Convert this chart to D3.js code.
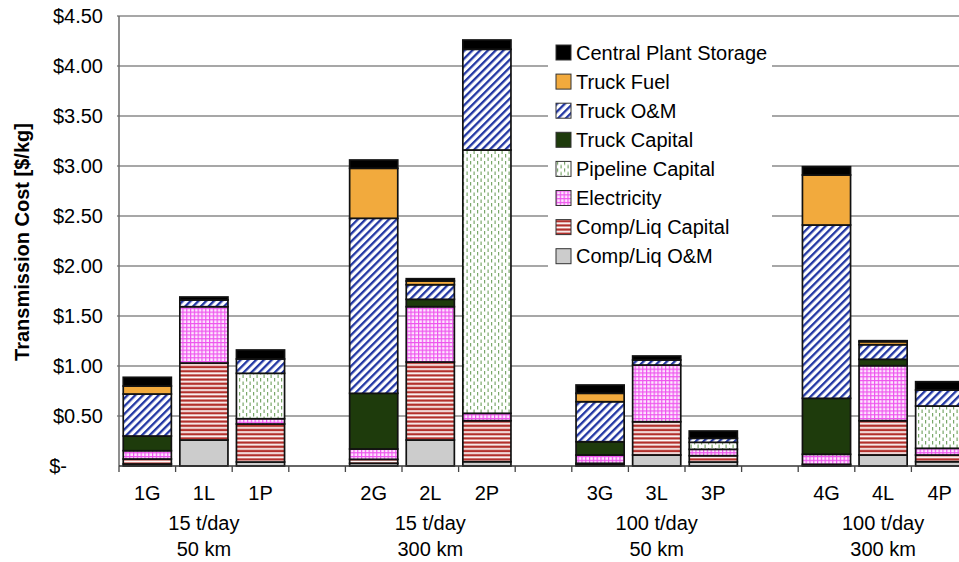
<!DOCTYPE html>
<html><head><meta charset="utf-8">
<script src="https://cdn.jsdelivr.net/npm/d3@7"></script>
<style>
html,body{margin:0;padding:0;background:#fff;}
svg{display:block;font-family:"Liberation Sans",Arial,sans-serif;}
</style></head>
<body><svg id="chart" width="959" height="562"></svg>
<script>
// ---- data ----
const categories = ["1G","1L","1P","2G","2L","2P","3G","3L","3P","4G","4L","4P"];
const groupLine1 = ["15 t/day","15 t/day","100 t/day","100 t/day"];
const groupLine2 = ["50 km","300 km","50 km","300 km"];
const seriesNames = ["Comp/Liq O&M","Comp/Liq Capital","Electricity","Pipeline Capital","Truck Capital","Truck O&M","Truck Fuel","Central Plant Storage"];
const compLiqOM       = [0.02, 0.26, 0.04, 0.027, 0.26, 0.043, 0.01, 0.11, 0.04, 0.005, 0.11, 0.043];
const compLiqCapital  = [0.05, 0.77, 0.38, 0.04, 0.78, 0.41, 0.017, 0.333, 0.063, 0.012, 0.343, 0.067];
const electricity     = [0.083, 0.563, 0.053, 0.103, 0.553, 0.074, 0.083, 0.567, 0.064, 0.10, 0.55, 0.067];
const pipelineCapital = [0, 0, 0.454, 0, 0, 2.633, 0, 0, 0.07, 0, 0, 0.423];
const truckCapital    = [0.147, 0, 0, 0.557, 0.074, 0, 0.133, 0, 0, 0.56, 0.064, 0];
const truckOM         = [0.42, 0.067, 0.143, 1.75, 0.146, 1.007, 0.40, 0.05, 0.04, 1.733, 0.146, 0.16];
const truckFuel       = [0.08, 0, 0, 0.5, 0.037, 0, 0.084, 0, 0, 0.5, 0.03, 0];
const centralPlantStorage = [0.087, 0.03, 0.09, 0.083, 0.023, 0.093, 0.083, 0.04, 0.073, 0.083, 0.01, 0.083];
const yTicks = [0, 0.5, 1, 1.5, 2, 2.5, 3, 3.5, 4, 4.5];
const yTickLabels = ["$-","$0.50","$1.00","$1.50","$2.00","$2.50","$3.00","$3.50","$4.00","$4.50"];
const yTitle = "Transmission Cost [$/kg]";

const seriesValues = [compLiqOM, compLiqCapital, electricity, pipelineCapital, truckCapital, truckOM, truckFuel, centralPlantStorage];
const rows = categories.map((c,i)=>{const r={cat:c}; seriesNames.forEach((s,j)=>r[s]=seriesValues[j][i]); return r;});

// slots with gaps between groups
const slots = [];
categories.forEach((c,i)=>{ if(i>0 && i%3===0) slots.push("gap"+i); slots.push(c); });

const svg = d3.select("#chart");
const W = 959, H = 562;
const pLeft = 119, pRight = 968, pTop = 16, pBottom = 466;

const x = d3.scaleBand().domain(slots).range([pLeft,pRight]).paddingInner(0.15).paddingOuter(0.075);
const y = d3.scaleLinear().domain([0,4.5]).range([pBottom,pTop]);

// patterns
const defs = svg.append("defs");
const pOM = defs.append("pattern").attr("id","pTruckOM").attr("patternUnits","userSpaceOnUse")
  .attr("width",5.5).attr("height",5.5).attr("patternTransform","rotate(45)");
pOM.append("rect").attr("width",5.5).attr("height",5.5).attr("fill","#fff");
pOM.append("rect").attr("width",2.3).attr("height",5.5).attr("fill","#2136a3");

const pRed = defs.append("pattern").attr("id","pCompCap").attr("patternUnits","userSpaceOnUse")
  .attr("width",4).attr("height",4.2);
pRed.append("rect").attr("width",4).attr("height",4.2).attr("fill","#fff");
pRed.append("rect").attr("y",0.4).attr("width",4).attr("height",2.4).attr("fill","#b3302c");

const pPink = defs.append("pattern").attr("id","pElec").attr("patternUnits","userSpaceOnUse")
  .attr("width",3.8).attr("height",3.8);
pPink.append("rect").attr("width",3.8).attr("height",3.8).attr("fill","#fde8fd");
pPink.append("rect").attr("width",3.8).attr("height",1.2).attr("fill","#ee55ee");
pPink.append("rect").attr("width",1.2).attr("height",3.8).attr("fill","#ee55ee");

const pPipe = defs.append("pattern").attr("id","pPipe").attr("patternUnits","userSpaceOnUse")
  .attr("width",7).attr("height",7);
pPipe.append("rect").attr("width",7).attr("height",7).attr("fill","#fff");
pPipe.append("rect").attr("x",1).attr("y",0).attr("width",1.2).attr("height",3.5).attr("fill","#7aa86a");
pPipe.append("rect").attr("x",4.5).attr("y",3.5).attr("width",1.2).attr("height",3.5).attr("fill","#7aa86a");

const fills = {
  "Comp/Liq O&M":"#cccccc",
  "Comp/Liq Capital":"url(#pCompCap)",
  "Electricity":"url(#pElec)",
  "Pipeline Capital":"url(#pPipe)",
  "Truck Capital":"#1e3b0c",
  "Truck O&M":"url(#pTruckOM)",
  "Truck Fuel":"#f2aa3d",
  "Central Plant Storage":"#000000"
};

// gridlines
svg.append("g").selectAll("line").data(yTicks.filter(d=>d>0)).join("line")
  .attr("x1",pLeft-2).attr("x2",W).attr("y1",d=>y(d)).attr("y2",d=>y(d))
  .attr("stroke","#8a8a8a").attr("stroke-width",1.6);

// y axis labels
const yAxis = d3.axisLeft(y).tickValues(yTicks).tickSize(0).tickPadding(16)
  .tickFormat((d,i)=>yTickLabels[i]);
const gy = svg.append("g").attr("transform",`translate(${pLeft},0)`).call(yAxis);
gy.select(".domain").remove();
gy.selectAll("text").attr("font-size",20).attr("fill","#000").attr("font-family","Liberation Sans, Arial, sans-serif")
  .attr("dx",(d,i)=> yTickLabels[i]==="$-" ? -36 : 0);

// y axis line
svg.append("line").attr("x1",pLeft).attr("x2",pLeft).attr("y1",pTop).attr("y2",pBottom)
  .attr("stroke","#6a6a6a").attr("stroke-width",1.5);

// y title
svg.append("text").attr("transform",`translate(29,242) rotate(-90)`)
  .attr("text-anchor","middle").attr("font-weight","bold").attr("font-size",20).text(yTitle);

// legend background
const legX = 548, legY = 36;
svg.append("rect").attr("x",legX).attr("y",legY).attr("width",224).attr("height",237).attr("fill","#fff");

// bars
const stack = d3.stack().keys(seriesNames);
const stacked = stack(rows);
const gBars = svg.append("g");
stacked.forEach(layer=>{
  gBars.append("g").selectAll("rect").data(layer.filter(d=>d[1]-d[0]>0)).join("rect")
    .attr("x",d=>x(d.data.cat)).attr("width",x.bandwidth())
    .attr("y",d=>y(d[1])).attr("height",d=>y(d[0])-y(d[1]))
    .attr("fill",fills[layer.key]).attr("stroke","#111").attr("stroke-width",1.7);
});

// baseline
svg.append("line").attr("x1",pLeft).attr("x2",W).attr("y1",pBottom).attr("y2",pBottom)
  .attr("stroke","#333").attr("stroke-width",1.5);

// x ticks at slot boundaries
const step = x.step();
const boundaries = slots.map(s=>x(s)-step*x.paddingInner()/2).concat([x(slots[slots.length-1])+x.bandwidth()+step*x.paddingInner()/2]);
svg.append("g").selectAll("line").data(boundaries).join("line")
  .attr("x1",d=>d).attr("x2",d=>d).attr("y1",pBottom).attr("y2",pBottom+6)
  .attr("stroke","#444").attr("stroke-width",1.3);

// category labels
svg.append("g").selectAll("text").data(categories).join("text")
  .attr("x",d=>x(d)+x.bandwidth()/2).attr("y",500)
  .attr("text-anchor","middle").attr("font-size",20).text(d=>d);

// group labels
const groupCenters = [1,4,7,10].map(i=>x(categories[i])+x.bandwidth()/2);
svg.append("g").selectAll("text").data(groupLine1).join("text")
  .attr("x",(d,i)=>groupCenters[i]).attr("y",530)
  .attr("text-anchor","middle").attr("font-size",20).text(d=>d);
svg.append("g").selectAll("text").data(groupLine2).join("text")
  .attr("x",(d,i)=>groupCenters[i]).attr("y",556)
  .attr("text-anchor","middle").attr("font-size",20).text(d=>d);

// legend (top to bottom reversed order)
const legItems = seriesNames.slice().reverse();
const lg = svg.append("g").selectAll("g").data(legItems).join("g")
  .attr("transform",(d,i)=>`translate(556,${45+i*29.1})`);
lg.append("rect").attr("width",15).attr("height",15)
  .attr("fill",d=>fills[d]).attr("stroke","#333").attr("stroke-width",1);
lg.append("text").attr("x",20).attr("y",14.5).attr("font-size",20).text(d=>d);
</script>
</body></html>
